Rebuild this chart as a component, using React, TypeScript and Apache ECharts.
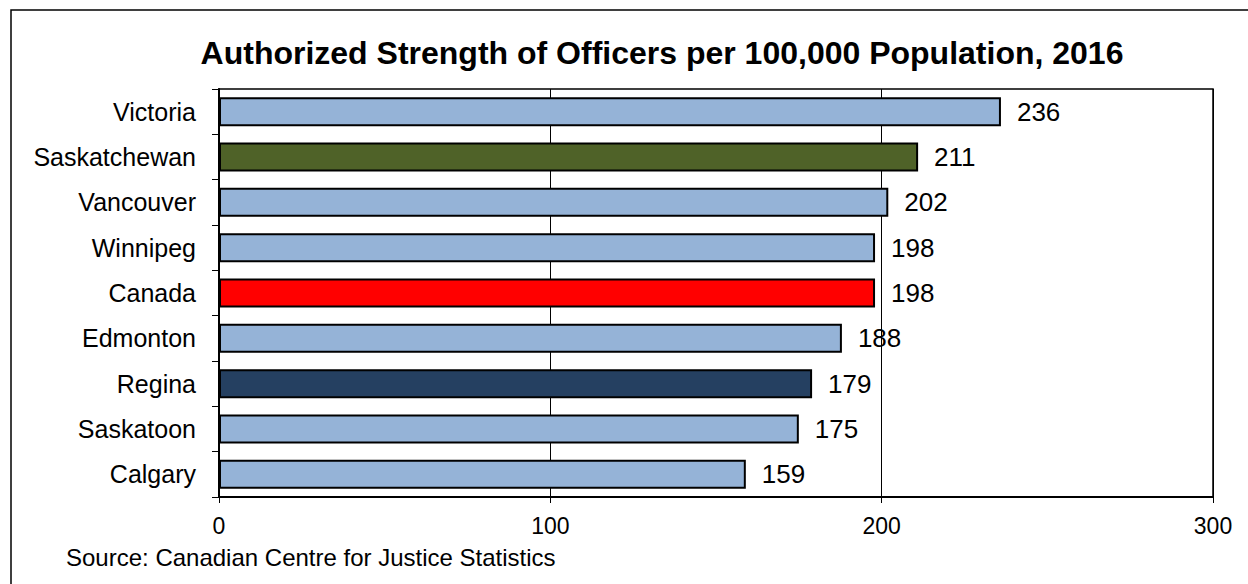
import React, { useEffect, useRef } from "react";
import * as echarts from "echarts";

const categories = ["Victoria", "Saskatchewan", "Vancouver", "Winnipeg", "Canada", "Edmonton", "Regina", "Saskatoon", "Calgary"];
const values = [236, 211, 202, 198, 198, 188, 179, 175, 159];
const barColors = ["#95B3D7", "#4F6228", "#95B3D7", "#95B3D7", "#FF0000", "#95B3D7", "#254061", "#95B3D7", "#95B3D7"];
const xTicks = [0, 100, 200, 300];
const titleText = "Authorized Strength of Officers per 100,000 Population, 2016";
const sourceText = "Source: Canadian Centre for Justice Statistics";

const FONT = "'Liberation Sans', Arial, sans-serif";

export default function App() {
  const ref = useRef<HTMLDivElement>(null);
  useEffect(() => {
    if (!ref.current) return;
    const chart = echarts.init(ref.current, null, { renderer: "svg" });
    chart.setOption({
      animation: false,
      backgroundColor: "#ffffff",
      textStyle: { fontFamily: FONT },
      title: {
        text: titleText,
        left: 657,
        top: 32,
        textAlign: "center",
        textStyle: { fontFamily: FONT, fontSize: 32, fontWeight: "bold", color: "#000" },
      },
      graphic: [
        {
          type: "rect",
          shape: { x: 11, y: 10, width: 1400, height: 800 },
          style: { fill: "none", stroke: "#000", lineWidth: 1.5 },
          silent: true,
        },
        {
          type: "text",
          x: 66,
          y: 557,
          style: { text: sourceText, fontFamily: FONT, fontSize: 24, fill: "#000", textVerticalAlign: "middle" },
        },
      ],
      grid: {
        left: 219,
        top: 89,
        right: 35,
        bottom: 87,
        show: true,
        borderColor: "#000",
        borderWidth: 1.5,
        containLabel: false,
      },
      xAxis: {
        type: "value",
        min: xTicks[0],
        max: xTicks[xTicks.length - 1],
        interval: 100,
        axisLine: { show: true, lineStyle: { color: "#000", width: 2 } },
        axisTick: { show: true, length: 6, lineStyle: { color: "#000", width: 1 } },
        splitLine: { show: true, lineStyle: { color: "#000", width: 1 } },
        axisLabel: { fontFamily: FONT, fontSize: 23, color: "#000", margin: 17 },
      },
      yAxis: {
        type: "category",
        data: categories,
        inverse: true,
        axisLine: { show: true, lineStyle: { color: "#000", width: 2 } },
        axisTick: { show: true, length: 7, lineStyle: { color: "#000", width: 1 } },
        axisLabel: { fontFamily: FONT, fontSize: 25, color: "#000", margin: 23 },
      },
      series: [
        {
          type: "bar",
          data: values.map((v, i) => ({ value: v, itemStyle: { color: barColors[i] } })),
          barWidth: 29,
          itemStyle: { borderColor: "#000", borderWidth: 2 },
          label: {
            show: true,
            position: "right",
            distance: 16,
            fontFamily: FONT,
            fontSize: 26,
            color: "#000",
          },
        },
      ],
    });
    return () => chart.dispose();
  }, []);
  return <div ref={ref} style={{ position: "absolute", left: 0, top: 0, width: 1248, height: 584 }} />;
}
